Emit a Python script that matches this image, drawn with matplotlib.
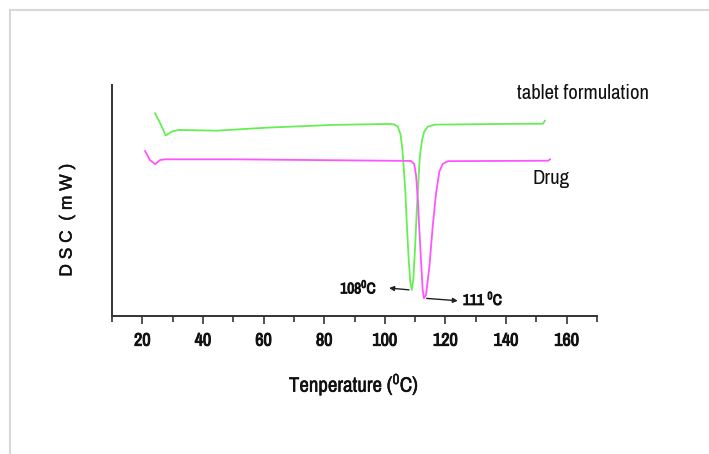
import numpy as np
import matplotlib.pyplot as plt
import matplotlib.patheffects as pe
from matplotlib import font_manager

# DSC curves (temperature in C, signal in arbitrary units)
tab_temp = [24.2, 25.9, 27.7, 29.7, 31.9, 44.6, 61.2, 83.2, 101.5, 103.1, 104.3, 105.2,
            105.8, 106.3, 106.8, 107.3, 107.9, 108.4, 108.9, 109.4, 110.0, 110.5, 111.1,
            111.6, 112.3, 113.0, 114.2, 116.4, 138.4, 152.2, 152.8]
tab_dsc = [87.7, 83.4, 78.1, 79.8, 80.5, 80.2, 81.5, 82.7, 83.1, 82.9, 81.9, 78.5,
           72.0, 63.0, 53.1, 38.7, 24.2, 14.8, 11.3, 15.6, 30.0, 44.5, 58.9,
           69.7, 76.2, 79.8, 81.9, 82.8, 83.1, 83.2, 84.5]

drug_temp = [20.9, 22.5, 24.2, 25.9, 27.5, 50.1, 83.2, 108.6, 109.7, 110.3, 110.9, 111.4,
             112.0, 112.5, 112.9, 113.6, 114.7, 115.8, 116.9, 118.0, 119.1, 120.8, 138.4,
             153.9, 154.5]
drug_dsc = [71.4, 67.5, 65.7, 67.5, 67.8, 67.8, 67.4, 67.1, 65.8, 61.0, 50.2, 37.2,
            22.8, 11.3, 7.7, 9.1, 21.3, 38.7, 53.1, 62.5, 65.8, 67.0, 67.1,
            67.2, 67.8]

xticks_major = [20, 40, 60, 80, 100, 120, 140, 160]

# look for a narrow sans face, like the Arial Narrow of the original
fam = 'Liberation Sans'
for f in font_manager.fontManager.ttflist:
    if 'Narrow' in f.name:
        fam = f.name
        break
narrow = fam != 'Liberation Sans'
plt.rcParams['font.family'] = [fam, 'DejaVu Sans']
plt.rcParams['mathtext.fontset'] = 'custom'
plt.rcParams['mathtext.rm'] = fam
plt.rcParams['mathtext.it'] = fam
plt.rcParams['mathtext.bf'] = fam

# fake bold, no bold narrow face installed
heavy = [pe.withStroke(linewidth=0.7, foreground='#111111')]
medium = [pe.withStroke(linewidth=0.35, foreground='#111111')]
text_col = '#111111'

fig = plt.figure(figsize=(7.09, 4.54), dpi=100)
ax = fig.add_axes([0.158, 0.304, 0.684, 0.509])

ax.plot(tab_temp, tab_dsc, color='#66ee55', lw=1.3)
ax.plot(drug_temp, drug_dsc, color='#ff55ff', lw=1.3)

ax.set_xlim(10, 170)
ax.set_ylim(0, 100)
ax.set_xticks(xticks_major)
ax.set_xticks(np.arange(10, 171, 10), minor=True)
ax.set_yticks([])
for s in ['top', 'right']:
    ax.spines[s].set_visible(False)
for s in ['left', 'bottom']:
    ax.spines[s].set_color('#333333')
    ax.spines[s].set_linewidth(1.4)
ax.tick_params(axis='x', which='both', direction='out', color='#333333', width=1.2)
ax.tick_params(axis='x', which='major', length=6, labelsize=13 if narrow else 10.5,
               pad=6, labelcolor=text_col)
ax.tick_params(axis='x', which='minor', length=4)
for lab in ax.get_xticklabels():
    lab.set_path_effects(heavy)

big = 15 if narrow else 12.5
ax.text(143.6, 94, 'tablet formulation', fontsize=big, color=text_col)
ax.text(148.6, 57, 'Drug', fontsize=big, color=text_col)

small = 11 if narrow else 9
ax.annotate('', xy=(100.5, 12.2), xytext=(108.9, 11.2),
            arrowprops=dict(arrowstyle='-|>', color='#222222', lw=1, mutation_scale=7))
ax.text(85.3, 12.5, '108$^0$C', fontsize=small, va='center', color=text_col,
        path_effects=heavy)
ax.annotate('', xy=(125, 6.5), xytext=(112.9, 7.7),
            arrowprops=dict(arrowstyle='-|>', color='#222222', lw=1, mutation_scale=7))
ax.text(125.8, 7.5, '111 $^0$C', fontsize=small, va='center', color=text_col,
        path_effects=heavy)

fig.text(354 / 709, 1 - 385 / 454, 'Tenperature ($^0$C)', fontsize=15 if narrow else 13,
         ha='center', va='center', color=text_col, path_effects=medium)
# the y label is in a wide face in the original
fig.text(67 / 709, 1 - 220 / 454, 'D S C  ( m W )', fontsize=12.5,
         family=['Liberation Sans', 'DejaVu Sans'], rotation=90,
         ha='center', va='center', color=text_col, path_effects=medium)

# light frame at top and left
fig.add_artist(plt.Line2D([10 / 709, 10 / 709], [0, 1 - 10 / 454], color='#d8d8d8',
                          lw=1.5, transform=fig.transFigure))
fig.add_artist(plt.Line2D([10 / 709, 1], [1 - 10 / 454, 1 - 10 / 454], color='#d8d8d8',
                          lw=1.5, transform=fig.transFigure))

fig.savefig('out.png', dpi=100)
